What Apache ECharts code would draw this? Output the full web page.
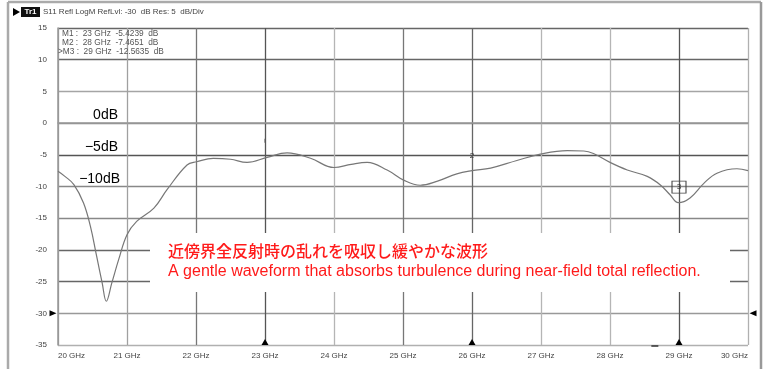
<!DOCTYPE html>
<html>
<head>
<meta charset="utf-8">
<script src="https://cdn.jsdelivr.net/npm/echarts@6/dist/echarts.min.js"></script>
<style>
html,body{margin:0;padding:0;background:#fff;}
#c{width:765px;height:369px;}
</style>
</head>
<body>
<div id="c"></div>
<script>
// Frequency (GHz) and S11 (dB)
const freqGHz = [20.0, 20.1, 20.23, 20.37, 20.47, 20.56, 20.64, 20.70, 20.78, 20.88, 21.0, 21.14, 21.39, 21.58, 21.87, 22.01, 22.25, 22.5, 22.74, 23.03, 23.32, 23.66, 24.0, 24.25, 24.48, 24.77, 25.01, 25.25, 25.49, 25.78, 26.0, 26.27, 26.65, 26.99, 27.38, 27.62, 27.76, 28.0, 28.25, 28.54, 28.73, 28.87, 28.99, 29.16, 29.36, 29.55, 29.84, 30.0];
const s11dB = [-7.6, -8.4, -9.7, -12.6, -16.3, -21.0, -25.2, -28.1, -25.2, -21.5, -17.6, -15.5, -13.4, -10.5, -6.6, -6.1, -5.55, -5.7, -6.2, -5.4, -4.7, -5.55, -7.0, -6.5, -6.2, -7.4, -9.0, -9.8, -9.2, -8.0, -7.5, -7.1, -5.9, -4.9, -4.35, -4.4, -4.8, -6.2, -7.4, -8.4, -9.75, -11.3, -12.55, -11.8, -9.5, -7.9, -7.2, -7.5];
const markerFreqs = [23, 26, 29];
const markerLines = ['M1 :  23 GHz  -5.4239  dB', 'M2 :  28 GHz  -7.4651  dB', '>M3 :  29 GHz  -12.5635  dB'];
const refLabels = ['0dB', '\u22125dB', '\u221210dB'];
const titleText = 'S11 Refl LogM RefLvl: -30  dB Res: 5  dB/Div';
const noteJa = '近傍界全反射時の乱れを吸収し緩やかな波形';
const noteEn = 'A gentle waveform that absorbs turbulence during near-field total reflection.';
const xMin = 20, xMax = 30, yMin = -35, yMax = 15;

const chart = echarts.init(document.getElementById('c'));
const small = {fontFamily: 'Liberation Sans', fontSize: 8, color: '#444'};

const series = freqGHz.map((f, i) => [f, s11dB[i]]);

const markData = [];
markerFreqs.forEach(f => {
  markData.push({coord: [f, yMin], symbol: 'triangle', symbolSize: [7, 6], symbolOffset: [0, -3],
    itemStyle: {color: '#000'}, label: {show: false}});
});
markData.push({coord: [xMin, -30], symbol: 'triangle', symbolSize: [6, 7], symbolRotate: -90, symbolOffset: [-5, 0],
  itemStyle: {color: '#000'}, label: {show: false}});
markData.push({coord: [xMax, -30], symbol: 'triangle', symbolSize: [6, 7], symbolRotate: 90, symbolOffset: [5, 0],
  itemStyle: {color: '#000'}, label: {show: false}});
markData.push({coord: [23, -2.8], symbol: 'rect', symbolSize: [1, 4], itemStyle: {color: '#555'}, label: {show: false}});
markData.push({coord: [26, -5.2], symbol: 'rect', symbolSize: [0, 0], itemStyle: {color: '#555'},
  label: {show: true, formatter: '2', position: 'inside', fontSize: 8, color: '#333', fontFamily: 'Liberation Sans'}});
markData.push({coord: [29, -10.1], symbol: 'rect', symbolSize: [14, 12],
  itemStyle: {color: 'rgba(255,255,255,0)', borderColor: '#444', borderWidth: 1},
  label: {show: true, formatter: '3', position: 'inside', fontSize: 8, color: '#333', fontFamily: 'Liberation Sans'}});
markData.push({coord: [28.65, yMin], symbol: 'rect', symbolSize: [7, 1.5], symbolOffset: [0, 1], itemStyle: {color: '#333'}, label: {show: false}});

const option = {
  animation: false,
  grid: {left: 58, right: 17, top: 28, bottom: 24},
  xAxis: {
    type: 'value', min: xMin, max: xMax, interval: 1,
    axisLine: {show: true, lineStyle: {color: '#999', width: 1.5}},
    axisTick: {show: false},
    axisLabel: {...small, margin: 7, formatter: '{value} GHz', alignMinLabel: 'left', alignMaxLabel: 'right'},
    splitLine: {show: true, lineStyle: {width: 1.3,
      color: ['#999', '#a0a0a0', '#777', '#555', '#b5b5b5', '#777', '#666', '#b5b5b5', '#b5b5b5', '#555', '#b0b0b0']}}
  },
  yAxis: {
    type: 'value', min: yMin, max: yMax, interval: 5,
    axisLine: {show: true, lineStyle: {color: '#999', width: 1.5}},
    axisTick: {show: false},
    axisLabel: {...small, margin: 11},
    splitLine: {show: true, lineStyle: {width: 1.3,
      color: ['#b0b0b0', '#999', '#666', '#666', '#888', '#888', '#555', '#888', '#a5a5a5', '#666', '#666']}}
  },
  series: [{
    type: 'line', data: series, smooth: 0.4, showSymbol: false,
    lineStyle: {color: '#777', width: 1.2},
    markPoint: {data: markData, animation: false}
  }],
  graphic: [
    // outer frame
    {type: 'line', shape: {x1: 8, y1: 2, x2: 761, y2: 2}, style: {stroke: '#aaa', lineWidth: 2.5}},
    {type: 'line', shape: {x1: 8, y1: 2, x2: 8, y2: 369}, style: {stroke: '#aaa', lineWidth: 2.5}},
    {type: 'line', shape: {x1: 761, y1: 2, x2: 761, y2: 369}, style: {stroke: '#999', lineWidth: 2.5}},
    // title bar
    {type: 'polygon', shape: {points: [[13, 8], [13, 16], [20, 12]]}, style: {fill: '#000'}},
    {type: 'rect', shape: {x: 21, y: 7, width: 19, height: 10}, style: {fill: '#111'}},
    {type: 'text', x: 30.5, y: 12, style: {text: 'Tr1', fill: '#fff', font: 'bold 8px Liberation Sans', align: 'center', verticalAlign: 'middle'}},
    {type: 'text', x: 43, y: 12, style: {text: titleText, fill: '#444', font: '8px Liberation Sans', verticalAlign: 'middle'}},
    // marker list
    {type: 'text', x: 62, y: 34, style: {text: markerLines[0], fill: '#555', font: '8.3px Liberation Sans', verticalAlign: 'middle'}, z: 5},
    {type: 'text', x: 62, y: 43, style: {text: markerLines[1], fill: '#555', font: '8.3px Liberation Sans', verticalAlign: 'middle'}, z: 5},
    {type: 'text', x: 58, y: 52, style: {text: markerLines[2], fill: '#555', font: '8.3px Liberation Sans', verticalAlign: 'middle'}, z: 5},
    // reference labels
    {type: 'text', x: 118, y: 115, style: {text: refLabels[0], fill: '#000', font: '14px Liberation Sans', align: 'right', verticalAlign: 'middle'}, z: 5},
    {type: 'text', x: 118, y: 147, style: {text: refLabels[1], fill: '#000', font: '14px Liberation Sans', align: 'right', verticalAlign: 'middle'}, z: 5},
    {type: 'text', x: 120, y: 179, style: {text: refLabels[2], fill: '#000', font: '14px Liberation Sans', align: 'right', verticalAlign: 'middle'}, z: 5},
    // note box
    {type: 'rect', shape: {x: 150, y: 233, width: 580, height: 59}, style: {fill: '#fff'}, z: 10},
    {type: 'text', x: 168, y: 251, style: {text: noteJa, fill: '#ff1a1a', font: '500 16px "Noto Sans CJK JP"', verticalAlign: 'middle'}, z: 11},
    {type: 'text', x: 168, y: 272, style: {text: noteEn, fill: '#ff1a1a', font: '16px Liberation Sans', verticalAlign: 'middle'}, z: 11}
  ]
};
chart.setOption(option);
</script>
</body>
</html>
